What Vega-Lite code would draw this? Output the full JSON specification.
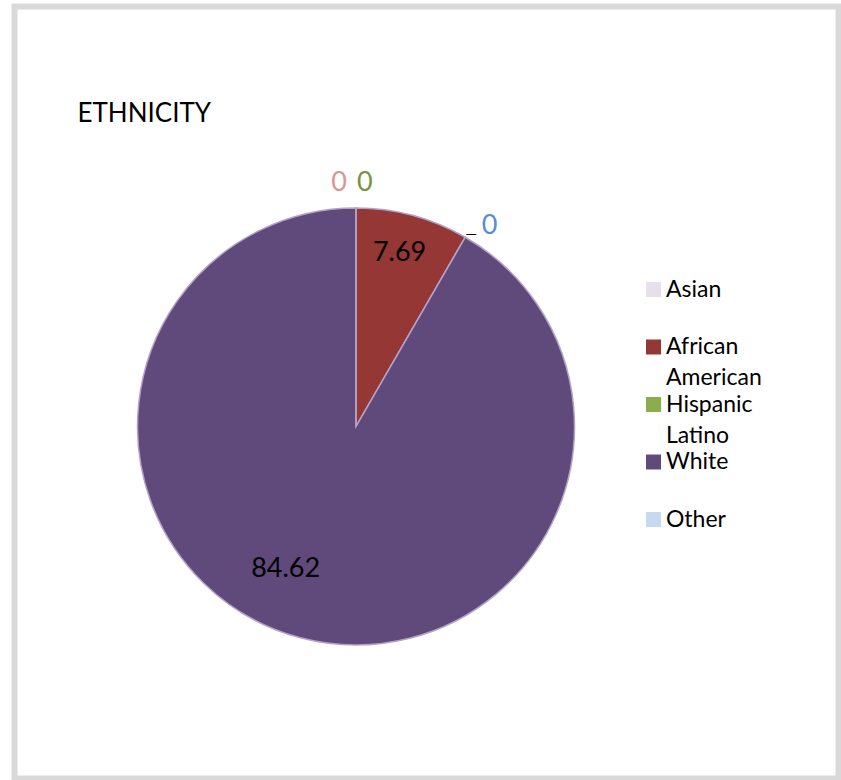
{
  "$schema": "https://vega.github.io/schema/vega-lite/v6.json",
  "width": 841,
  "height": 780,
  "autosize": {"type": "fit", "contains": "padding"},
  "padding": {"left": 14.5, "top": 6.5, "right": 2.5, "bottom": 1.5},
  "background": "white",
  "view": {"stroke": "#d9d9d9", "strokeWidth": 6, "fill": "white"},
  "config": {
    "view": {"stroke": "#d9d9d9", "strokeWidth": 6, "fill": "white"},
    "style": {"guide-label": {"lineHeight": 31}}
  },
  "title": {
    "text": "ETHNICITY",
    "anchor": "start",
    "frame": "group",
    "font": "Lato",
    "fontSize": 26,
    "fontWeight": "normal",
    "color": "#000000",
    "dx": 63,
    "dy": 141,
    "offset": 0,
    "baseline": "alphabetic"
  },
  "data": {
    "values": [
      {"ethnicity": "Asian", "value": 0},
      {"ethnicity": "African American", "value": 7.69},
      {"ethnicity": "Hispanic Latino", "value": 0},
      {"ethnicity": "White", "value": 84.62},
      {"ethnicity": "Other", "value": 0}
    ]
  },
  "transform": [{"window": [{"op": "row_number", "as": "idx"}]}],
  "encoding": {
    "theta": {"field": "value", "type": "quantitative", "stack": true},
    "order": {"field": "idx", "type": "quantitative"},
    "detail": {"field": "ethnicity", "type": "nominal"}
  },
  "layer": [
    {
      "mark": {"type": "arc", "outerRadius": 218.5, "x": 341.5, "y": 420, "stroke": "#b3a2c7", "strokeWidth": 1.5},
      "encoding": {
        "color": {
          "field": "ethnicity",
          "type": "nominal",
          "scale": {
            "domain": ["Asian", "African American", "Hispanic Latino", "White", "Other"],
            "range": ["#E6E0EC", "#953735", "#8AAE4C", "#604A7B", "#C6D9F1"]
          },
          "legend": {
            "orient": "none",
            "legendX": 627.5,
            "legendY": 271.5,
            "title": null,
            "padding": 0,
            "symbolType": "square",
            "symbolSize": 225,
            "symbolStrokeWidth": 0,
            "labelFont": "Lato",
            "labelFontSize": 23,
            "labelColor": "#000000",
            "labelOffset": 1,
            "rowPadding": 2.5,
            "labelLimit": 300,
            "labelExpr": "datum.label == 'African American' ? ['African', 'American'] : datum.label == 'Hispanic Latino' ? ['Hispanic', 'Latino'] : [datum.label, '']"
          }
        }
      }
    },
    {
      "mark": {"type": "text", "radius": 180, "x": 341.5, "y": 420, "dx": -3, "font": "Lato", "fontSize": 27, "fill": "#000000"},
      "encoding": {
        "text": {"field": "value", "type": "quantitative", "format": ".4~g"},
        "opacity": {"condition": {"test": "datum.ethnicity === 'African American'", "value": 1}, "value": 0}
      }
    },
    {
      "mark": {"type": "text", "radius": 156, "x": 341.5, "y": 420, "dx": -30, "dy": -8, "font": "Lato", "fontSize": 27, "fill": "#000000"},
      "encoding": {
        "text": {"field": "value", "type": "quantitative", "format": ".4~g"},
        "opacity": {"condition": {"test": "datum.ethnicity === 'White'", "value": 1}, "value": 0}
      }
    },
    {
      "mark": {"type": "text", "radius": 244, "x": 341.5, "y": 420, "align": "right", "baseline": "middle", "dx": -9, "font": "Lato", "fontSize": 27, "fill": "#D99694"},
      "encoding": {
        "text": {"field": "value", "type": "quantitative", "format": ".4~g"},
        "opacity": {"condition": {"test": "datum.ethnicity === 'Asian'", "value": 1}, "value": 0}
      }
    },
    {
      "mark": {"type": "text", "radius": 244, "x": 341.5, "y": 420, "align": "left", "baseline": "middle", "dx": 1, "font": "Lato", "fontSize": 27, "fill": "#77933C"},
      "encoding": {
        "text": {"field": "value", "type": "quantitative", "format": ".4~g"},
        "opacity": {"condition": {"test": "datum.ethnicity === 'Other'", "value": 1}, "value": 0}
      }
    },
    {
      "mark": {"type": "text", "radius": 218.5, "x": 341.5, "y": 420, "align": "left", "baseline": "middle", "dx": 16.5, "dy": -11, "font": "Lato", "fontSize": 27, "fill": "#558ED5"},
      "encoding": {
        "text": {"field": "value", "type": "quantitative", "format": ".4~g"},
        "opacity": {"condition": {"test": "datum.ethnicity === 'Hispanic Latino'", "value": 1}, "value": 0}
      }
    },
    {
      "mark": {"type": "text", "radius": 218.5, "x": 341.5, "y": 420, "align": "left", "baseline": "alphabetic", "dx": 0, "dy": 1.5, "font": "Lato", "fontSize": 15, "fill": "#000000", "text": "—"},
      "encoding": {
        "opacity": {"condition": {"test": "datum.ethnicity === 'Hispanic Latino'", "value": 1}, "value": 0}
      }
    }
  ]
}
